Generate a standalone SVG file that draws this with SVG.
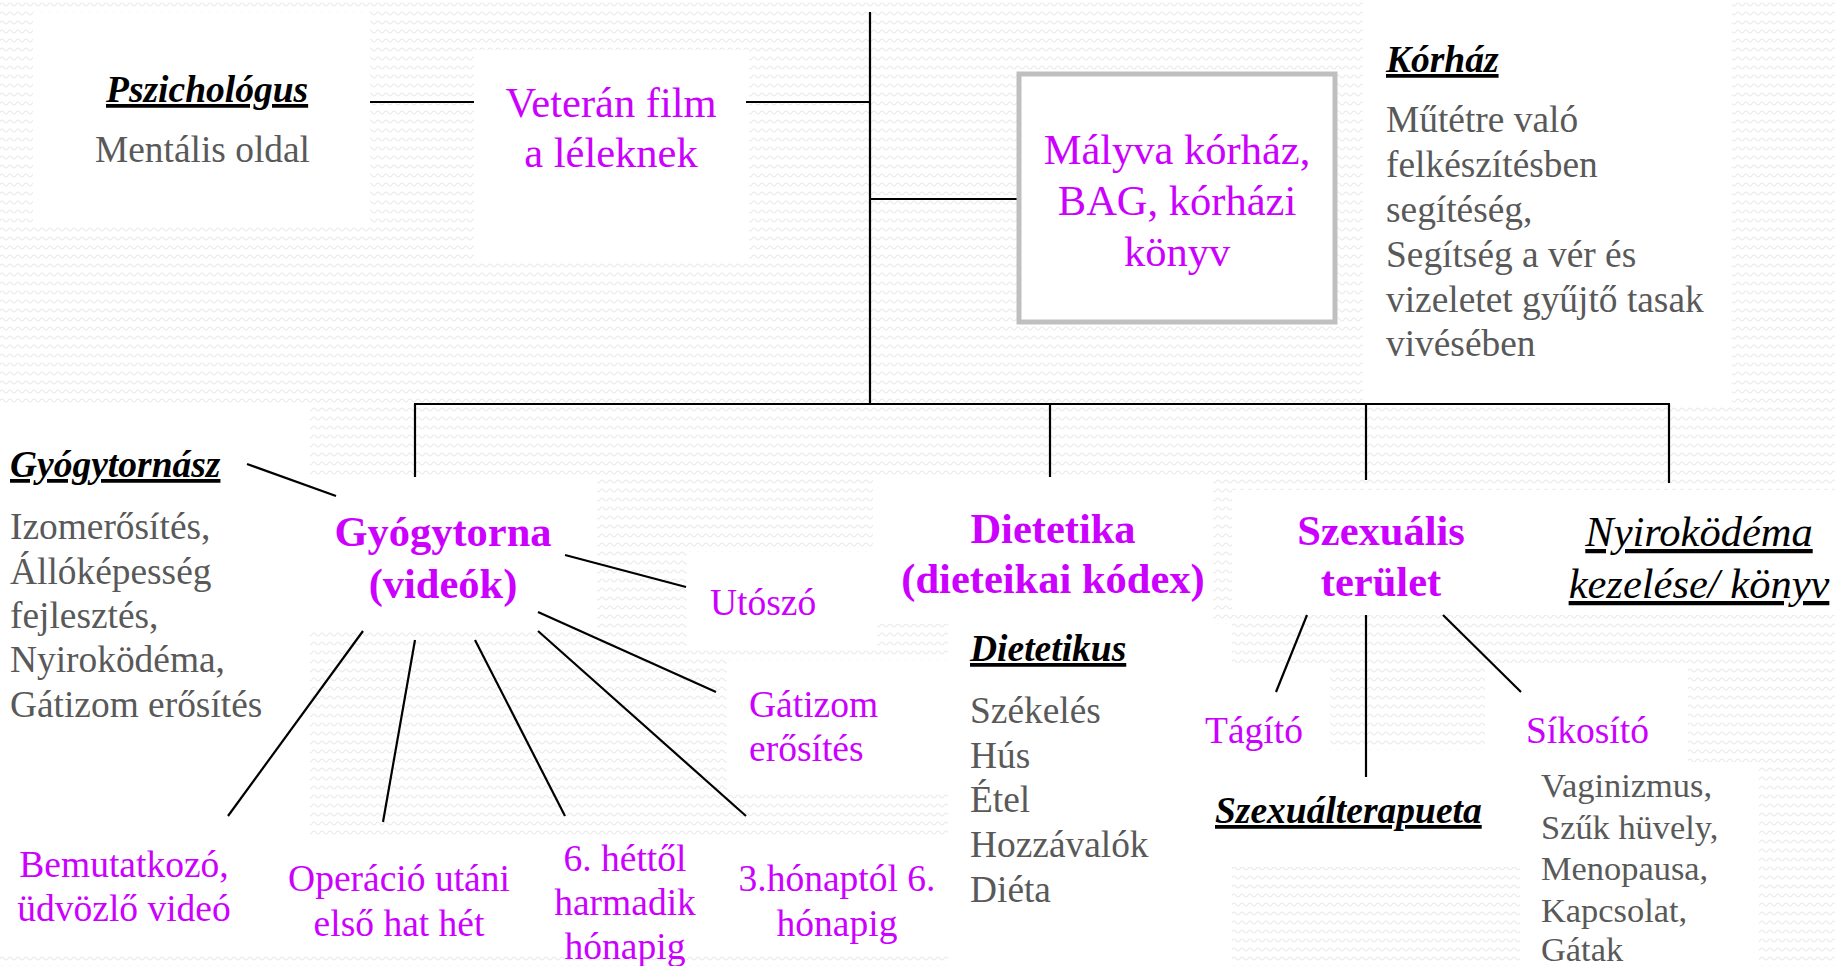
<svg xmlns="http://www.w3.org/2000/svg" width="1835" height="966" viewBox="0 0 1835 966">
<defs>
<pattern id="wave" width="8" height="9" patternUnits="userSpaceOnUse">
<path d="M0,4.5 Q2,1.5 4,4.5 T8,4.5" fill="none" stroke="#E9E9E9" stroke-width="1.2"/>
</pattern>
<style>
text{font-family:"Liberation Serif","Times New Roman",serif}
.hd{font-weight:bold;font-style:italic;font-size:37.5px;fill:#000;text-decoration:underline}
.gr{font-size:37.4px;fill:#595959}
.gs{font-size:34.4px;fill:#595959}
.mg{font-size:37.5px;fill:#CC00FF}
.mb{font-size:42.5px;fill:#CC00FF}
.bb{font-size:42.5px;font-weight:bold;fill:#CC00FF}
.it{font-size:42.5px;font-style:italic;fill:#000;text-decoration:underline}
.c{text-anchor:middle}
.ln{stroke:#000;stroke-width:2.2;fill:none}
.wb{fill:#fff}
</style>
</defs>
<rect width="1835" height="966" fill="#fff"/>
<rect width="1835" height="966" fill="url(#wave)"/>
<g id="backgrounds">
<rect class="wb" x="33" y="12" width="337" height="214"/>
<rect class="wb" x="474" y="50" width="275" height="210"/>
<rect class="wb" x="1363" y="0" width="369" height="404"/>
<rect class="wb" x="0" y="407" width="310" height="549"/>
<rect class="wb" x="310" y="476" width="287" height="155"/>
<rect class="wb" x="687" y="552" width="190" height="97"/>
<rect class="wb" x="873" y="476" width="340" height="148"/>
<rect class="wb" x="727" y="660" width="221" height="130"/>
<rect class="wb" x="0" y="838" width="948" height="118"/>
<rect class="wb" x="948" y="624" width="284" height="342"/>
<rect class="wb" x="1232" y="490" width="603" height="125"/>
<rect class="wb" x="1232" y="663" width="98" height="204"/>
<rect class="wb" x="1232" y="750" width="288" height="117"/>
<rect class="wb" x="1485" y="663" width="203" height="99"/>
<rect class="wb" x="1520" y="762" width="239" height="204"/>
</g>
<g id="connectors">
<line class="ln" x1="370" y1="102" x2="474" y2="102"/>
<line class="ln" x1="746" y1="102" x2="870" y2="102"/>
<line class="ln" x1="870" y1="12" x2="870" y2="405"/>
<line class="ln" x1="870" y1="199" x2="1017" y2="199"/>
<line class="ln" x1="414" y1="404" x2="1670" y2="404"/>
<line class="ln" x1="415" y1="404" x2="415" y2="477"/>
<line class="ln" x1="1050" y1="404" x2="1050" y2="477"/>
<line class="ln" x1="1366" y1="404" x2="1366" y2="480"/>
<line class="ln" x1="1669" y1="404" x2="1669" y2="483"/>
<line class="ln" x1="247" y1="464" x2="336" y2="496"/>
<line class="ln" x1="565" y1="555" x2="686" y2="587"/>
<line class="ln" x1="538" y1="612" x2="716" y2="692"/>
<line class="ln" x1="363" y1="631" x2="228" y2="816"/>
<line class="ln" x1="415" y1="640" x2="383" y2="822"/>
<line class="ln" x1="475" y1="640" x2="565" y2="816"/>
<line class="ln" x1="538" y1="631" x2="746" y2="816"/>
<line class="ln" x1="1307" y1="615" x2="1276" y2="692"/>
<line class="ln" x1="1366" y1="615" x2="1366" y2="777"/>
<line class="ln" x1="1443" y1="615" x2="1521" y2="692"/>
</g>
<g id="pszichologus">
<text class="hd" x="106" y="102">Pszichológus</text>
<text class="gr" x="95" y="162">Mentális oldal</text>
</g>
<g id="veteran">
<text class="mb c" x="611" y="117">Veterán film</text>
<text class="mb c" x="611" y="167">a léleknek</text>
</g>
<g id="malyva">
<rect x="1019" y="74" width="316" height="248" fill="#fff" stroke="#BFBFBF" stroke-width="5"/>
<text class="mb c" x="1177" y="164">Mályva kórház,</text>
<text class="mb c" x="1177" y="215">BAG, kórházi</text>
<text class="mb c" x="1177" y="266">könyv</text>
</g>
<g id="korhaz">
<text class="hd" x="1386" y="72">Kórház</text>
<text class="gr" x="1386" y="131.5">Műtétre való</text>
<text class="gr" x="1386" y="176.5">felkészítésben</text>
<text class="gr" x="1386" y="221.5">segítéség,</text>
<text class="gr" x="1386" y="266.5">Segítség a vér és</text>
<text class="gr" x="1386" y="311.5">vizeletet gyűjtő tasak</text>
<text class="gr" x="1386" y="356">vivésében</text>
</g>
<g id="gyogytornasz">
<text class="hd" x="10" y="477">Gyógytornász</text>
<text class="gr" x="10" y="539">Izomerősítés,</text>
<text class="gr" x="10" y="584">Állóképesség</text>
<text class="gr" x="10" y="628">fejlesztés,</text>
<text class="gr" x="10" y="672">Nyiroködéma,</text>
<text class="gr" x="10" y="717">Gátizom erősítés</text>
</g>
<g id="gyogytorna">
<text class="bb c" x="443" y="546">Gyógytorna</text>
<text class="bb c" x="443" y="598">(videók)</text>
</g>
<g id="utoszo">
<text class="mg" x="710" y="615">Utószó</text>
</g>
<g id="gatizom">
<text class="mg" x="749" y="716.5">Gátizom</text>
<text class="mg" x="749" y="761">erősítés</text>
</g>
<g id="bemutatkozo">
<text class="mg c" x="124" y="877">Bemutatkozó,</text>
<text class="mg c" x="124" y="921">üdvözlő videó</text>
</g>
<g id="operacio">
<text class="mg c" x="399" y="890.5">Operáció utáni</text>
<text class="mg c" x="399" y="935.5">első hat hét</text>
</g>
<g id="hettol">
<text class="mg c" x="625" y="870.5">6. héttől</text>
<text class="mg c" x="625" y="914.5">harmadik</text>
<text class="mg c" x="625" y="959">hónapig</text>
</g>
<g id="honaptol">
<text class="mg c" x="837" y="890.5">3.hónaptól 6.</text>
<text class="mg c" x="837" y="935.5">hónapig</text>
</g>
<g id="dietetika">
<text class="bb c" x="1053" y="542.5">Dietetika</text>
<text class="bb c" x="1053" y="592.5">(dieteikai kódex)</text>
</g>
<g id="dietetikus">
<text class="hd" x="970" y="661">Dietetikus</text>
<text class="gr" x="970" y="722.5">Székelés</text>
<text class="gr" x="970" y="767.5">Hús</text>
<text class="gr" x="970" y="811.5">Étel</text>
<text class="gr" x="970" y="856.5">Hozzávalók</text>
<text class="gr" x="970" y="901.5">Diéta</text>
</g>
<g id="szexualis">
<text class="bb c" x="1381" y="545">Szexuális</text>
<text class="bb c" x="1381" y="596">terület</text>
</g>
<g id="nyirokodema">
<text class="it c" x="1699" y="546">Nyiroködéma</text>
<text class="it c" x="1699" y="598">kezelése/ könyv</text>
</g>
<g id="tagito">
<text class="mg" x="1205" y="743">Tágító</text>
</g>
<g id="sikosito">
<text class="mg" x="1526" y="743">Síkosító</text>
<text class="gs" x="1541" y="797">Vaginizmus,</text>
<text class="gs" x="1541" y="839">Szűk hüvely,</text>
<text class="gs" x="1541" y="880">Menopausa,</text>
<text class="gs" x="1541" y="922">Kapcsolat,</text>
<text class="gs" x="1541" y="961">Gátak</text>
</g>
<g id="szexualterapueta">
<text class="hd" x="1215" y="823">Szexuálterapueta</text>
</g>
</svg>
